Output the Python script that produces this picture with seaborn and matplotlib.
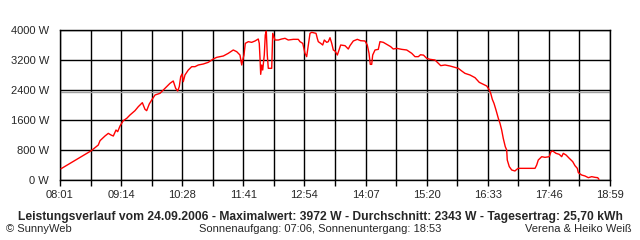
import matplotlib
matplotlib.use("Agg")
import matplotlib.pyplot as plt
import seaborn as sns
import pandas as pd
import numpy as np

# minutes after 08:01
minutes = [1.2, 37.4, 45.8, 47.9, 53.8, 57.8, 61.0, 63.8, 67.0, 69.0, 71.8, 75.7, 79.8, 83.7,
           89.7, 93.7, 98.5, 101.7, 103.7, 106.8, 109.7, 113.7, 119.6, 125.6, 131.6, 135.5,
           138.4, 140.8, 142.7, 144.4, 146.0, 147.5, 149.5, 153.5, 157.6, 161.5, 165.5, 171.4,
           177.4, 183.4, 187.5, 195.4, 201.3, 207.3, 211.4, 215.3, 217.4, 218.6, 220.1, 221.7,
           225.3, 229.3, 233.3, 237.2, 238.4, 239.3, 240.1, 241.3, 242.5, 244.4, 245.6, 246.8,
           248.0, 249.2, 253.3, 254.5, 257.2, 261.2, 265.2, 269.2, 273.1, 279.1, 285.1, 287.1,
           290.4, 293.1, 295.1, 297.1, 299.1, 301.1, 306.3, 307.8, 309.0, 311.9, 314.3, 316.2,
           319.1, 321.0, 323.0, 325.1, 327.0, 329.0, 331.8, 333.8, 335.8, 341.0, 344.9, 346.9,
           350.9, 355.7, 359.7, 364.9, 367.6, 369.7, 371.2, 372.9, 374.1, 376.9, 380.8, 382.8,
           386.8, 390.9, 395.6, 398.7, 402.8, 408.8, 414.8, 420.8, 424.7, 428.7, 431.3, 434.9,
           438.7, 442.7, 448.6, 452.6, 455.5, 460.6, 466.6, 472.6, 476.5, 480.6, 484.5, 490.5,
           496.5, 501.6, 506.4, 510.5, 513.2, 515.3, 517.2, 519.2, 521.6, 524.4, 526.4, 528.4,
           530.3, 532.7, 534.4, 535.1, 537.5, 540.4, 544.3, 546.4, 548.3, 568.3, 570.3, 572.2,
           576.3, 580.2, 585.4, 587.4, 589.5, 593.4, 597.3, 600.2, 602.1, 605.4, 609.3, 613.4,
           616.1, 618.9, 620.1, 624.1, 628.1, 632.1, 636.1, 640.0, 643.3, 644.8]
power_w = [300, 781, 933, 1049, 1173, 1244, 1200, 1173, 1333, 1289, 1440, 1582, 1644, 1733,
           1849, 1956, 2062, 1884, 1849, 2027, 2133, 2267, 2311, 2444, 2578, 2640,
           2444, 2373, 2489, 2756, 2827, 2622, 2800, 2933, 3022, 3022, 3067, 3093,
           3138, 3227, 3271, 3307, 3378, 3467, 3422, 3333, 3067, 3200, 3333, 3644,
           3689, 3671, 3707, 3760, 3644, 3244, 2818, 3067, 2933, 3333, 3867, 3972,
           3333, 2978, 2978, 3911, 3733, 3733, 3760, 3778, 3733, 3751, 3751, 3689,
           3644, 3378, 3289, 3600, 3911, 3938, 3911, 3778, 3689, 3644, 3600, 3733,
           3671, 3689, 3795, 3644, 3467, 3440, 3333, 3467, 3600, 3582, 3493, 3582,
           3707, 3751, 3715, 3707, 3600, 3378, 3084, 3084, 3333, 3467, 3484, 3689,
           3671, 3618, 3556, 3493, 3511, 3484, 3467, 3378, 3289, 3289, 3340, 3330,
           3244, 3218, 3200, 3111, 3049, 3067, 3040, 3004, 2978, 2907, 2844, 2800,
           2729, 2604, 2551, 2507, 2418, 2311, 2151, 2044, 1867, 1644, 1511, 1333,
           1111, 889, 800, 533, 356, 267, 240, 284, 311, 311, 400, 533,
           622, 604, 622, 756, 773, 711, 684, 622, 711, 667, 578, 489,
           382, 311, 196, 133, 107, 62, 89, 71, 62, 18]

tick_labels = ["08:01", "09:14", "10:28", "11:41", "12:54", "14:07", "15:20", "16:33", "17:46", "18:59"]
y_ticks = [0, 800, 1600, 2400, 3200, 4000]
average_w = 2343
span_min = 658

title = "Leistungsverlauf vom 24.09.2006 - Maximalwert: 3972 W - Durchschnitt: 2343 W - Tagesertrag: 25,70 kWh"
footer_left = "© SunnyWeb"
footer_mid = "Sonnenaufgang: 07:06, Sonnenuntergang: 18:53"
footer_right = "Verena & Heiko Weiß"

sns.set_style("white")
plt.rcParams['font.family'] = ['Liberation Sans', 'DejaVu Sans']

df = pd.DataFrame({"t": minutes, "P": power_w})

fig = plt.figure(figsize=(6.4, 2.4), dpi=100)
ax = fig.add_axes([60/640, 60/240, 550/640, 150/240])

major = np.linspace(0, span_min, len(tick_labels))
minor = (major[:-1] + major[1:]) / 2
ax.set_xticks(major)
ax.set_xticklabels(tick_labels)
ax.set_xticks(minor, minor=True)
ax.set_yticks(y_ticks)
ax.set_yticklabels([f"{v} W" for v in y_ticks])
ax.set_xlim(0, span_min)
ax.set_ylim(0, 4000)

for v in list(major) + list(minor):
    ax.axvline(v, color="black", lw=1.0, zorder=1)
for v in y_ticks:
    ax.axhline(v, color="black", lw=1.0, zorder=1)
ax.axhline(average_w, color="#a0a0a0", lw=1.0, zorder=1)

sns.lineplot(data=df, x="t", y="P", color="#ff0000", lw=1.0, ax=ax, zorder=3)
ax.set_xlabel("")
ax.set_ylabel("")

for s in ax.spines.values():
    s.set_color("black")
    s.set_linewidth(1.0)

ax.tick_params(axis="x", which="both", direction="out", length=4, width=1, color="black",
               labelsize=8, pad=3, bottom=True)
ax.tick_params(axis="y", which="both", length=0, labelsize=8, pad=8, left=True)

fig.text(320/640, 1 - 217/240, title, ha="center", va="center", fontsize=8.7, fontweight="bold")
fig.text(6/640, 1 - 229/240, footer_left, ha="left", va="center", fontsize=8)
fig.text(320/640, 1 - 229/240, footer_mid, ha="center", va="center", fontsize=8)
fig.text(632/640, 1 - 229/240, footer_right, ha="right", va="center", fontsize=8)

fig.savefig("out.png", dpi=100)
